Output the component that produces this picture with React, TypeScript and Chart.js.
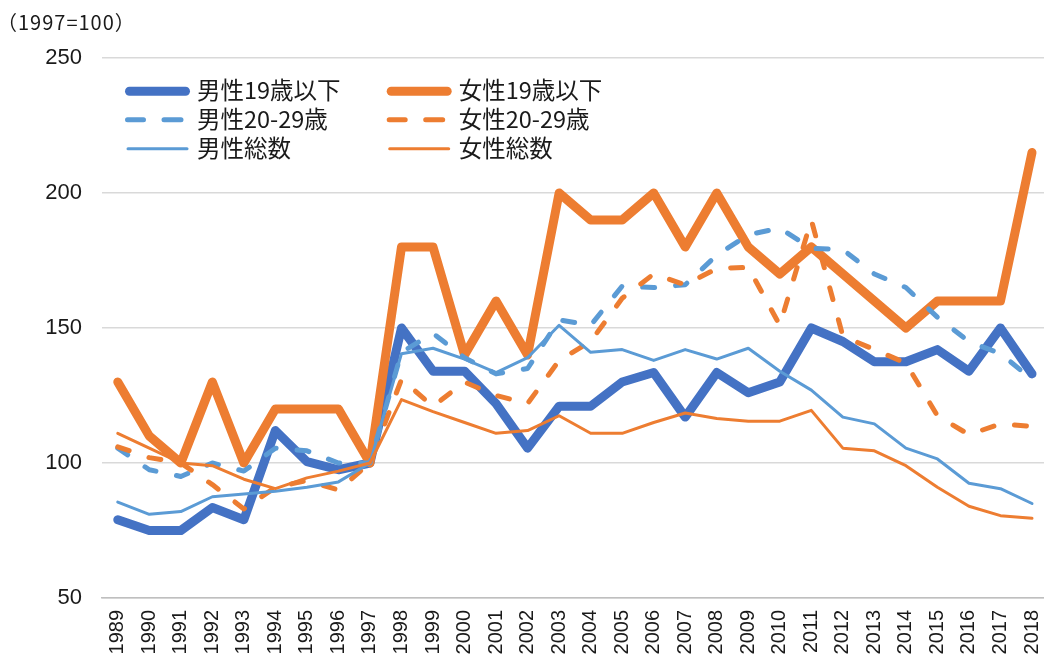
import React, { useEffect, useRef } from "react";
import { Chart, registerables } from "chart.js";

Chart.register(...registerables);

const years = [
  "1989", "1990", "1991", "1992", "1993", "1994", "1995", "1996", "1997", "1998",
  "1999", "2000", "2001", "2002", "2003", "2004", "2005", "2006", "2007", "2008",
  "2009", "2010", "2011", "2012", "2013", "2014", "2015", "2016", "2017", "2018",
];

const male19 = [79, 75, 75, 83.5, 79, 112, 100.5, 97.5, 100, 150, 134, 134, 122, 105.5, 121, 121, 130, 133.5, 117, 133.5, 126, 130, 150, 145, 137.5, 137.5, 142, 134, 150, 133];
const female19 = [130, 110, 100, 130, 100, 120, 120, 120, 100, 180, 180, 140, 160, 140, 200, 190, 190, 200, 180, 200, 180, 170, 180, 170, 160, 150, 160, 160, 160, 215];
const male20s = [105.5, 97.5, 95, 100, 97, 105.5, 104.5, 100, 100, 141, 148, 139, 133, 135, 153, 151, 165.5, 165, 166, 177, 184.5, 187, 179.5, 179, 170, 165, 154, 145, 140.5, 131];
const female20s = [106, 102, 100, 92, 83, 91, 93.5, 90, 100, 131, 121, 130, 125, 122, 138, 145, 161, 170, 166, 172, 172.5, 151, 190, 147, 142, 137, 117.5, 110.5, 114.5, 113.5];
const maleTotal = [85.5, 81, 82, 87.5, 88.5, 89.5, 91, 93, 100, 140.5, 142.5, 138.5, 133.5, 139, 151, 141, 142, 138, 142, 138.5, 142.5, 134, 127, 117, 114.5, 105.5, 101.5, 92.5, 90.5, 85];
const femaleTotal = [111, 105.5, 100, 99, 94, 90.5, 94.5, 97, 100, 123.5, 119, 115, 111, 112, 117.5, 111, 111, 115, 118.5, 116.5, 115.5, 115.5, 119.5, 105.5, 104.5, 99, 91, 84, 80.5, 79.5];

const yTicks = [50, 100, 150, 200, 250];
const titleText = "（1997=100）";

const BLUE = "#4472C4";
const LIGHT_BLUE = "#5B9BD5";
const ORANGE = "#ED7D31";
const CJK = '"Noto Sans CJK JP", "Noto Sans", sans-serif';

const legendPlugin = {
  id: "customLegend",
  afterDraw(chart: any) {
    const ctx = chart.ctx as CanvasRenderingContext2D;
    ctx.save();
    // title
    ctx.fillStyle = "#1a1a1a";
    ctx.font = `20px ${CJK}`;
    ctx.textBaseline = "middle";
    ctx.textAlign = "left";
    try { (ctx as any).letterSpacing = "1px"; } catch (e) {}
    ctx.fillText(titleText, -3, 22);
    try { (ctx as any).letterSpacing = "0px"; } catch (e) {}

    const cols = [125, 386.7];
    const rows = [91.3, 119.7, 148.7];
    const dsets = chart.data.datasets;
    dsets.forEach((ds: any, i: number) => {
      const col = i % 2;
      const row = Math.floor(i / 2);
      const x0 = cols[col];
      const y = rows[row];
      ctx.strokeStyle = ds.borderColor;
      ctx.lineWidth = ds.borderWidth;
      ctx.lineCap = "round";
      ctx.setLineDash([]);
      ctx.beginPath();
      if (ds.borderDash && ds.borderDash.length) {
        ctx.moveTo(x0 + 2.5, y);
        ctx.lineTo(x0 + 18.5, y);
        ctx.moveTo(x0 + 39, y);
        ctx.lineTo(x0 + 56, y);
      } else if (ds.borderWidth >= 8) {
        ctx.moveTo(x0 + 4.5, y);
        ctx.lineTo(x0 + 60.5, y);
      } else {
        ctx.moveTo(x0 + 3, y);
        ctx.lineTo(x0 + 62, y);
      }
      ctx.stroke();
      ctx.fillStyle = "#1a1a1a";
      ctx.font = `23.5px ${CJK}`;
      ctx.textBaseline = "middle";
      ctx.fillText(ds.label, x0 + 72, y - 1);
    });
    ctx.restore();
  },
};

export default function App() {
  const ref = useRef<HTMLCanvasElement | null>(null);
  useEffect(() => {
    document.body.style.margin = "0";
    document.body.style.overflow = "hidden";
    const common = {
      pointRadius: 0,
      pointHoverRadius: 0,
      tension: 0,
      fill: false,
      borderCapStyle: "round" as const,
      borderJoinStyle: "round" as const,
    };
    const chart = new Chart(ref.current as HTMLCanvasElement, {
      type: "line",
      data: {
        labels: years,
        datasets: [
          { ...common, label: "男性19歳以下", data: male19, borderColor: BLUE, backgroundColor: BLUE, borderWidth: 9, order: 6 },
          { ...common, label: "女性19歳以下", data: female19, borderColor: ORANGE, backgroundColor: ORANGE, borderWidth: 9, order: 5 },
          { ...common, label: "男性20-29歳", data: male20s, borderColor: LIGHT_BLUE, backgroundColor: LIGHT_BLUE, borderWidth: 5, borderDash: [12, 21], order: 4 },
          { ...common, label: "女性20-29歳", data: female20s, borderColor: ORANGE, backgroundColor: ORANGE, borderWidth: 5, borderDash: [12, 21], order: 3 },
          { ...common, label: "男性総数", data: maleTotal, borderColor: LIGHT_BLUE, backgroundColor: LIGHT_BLUE, borderWidth: 3, order: 2 },
          { ...common, label: "女性総数", data: femaleTotal, borderColor: ORANGE, backgroundColor: ORANGE, borderWidth: 3, order: 1 },
        ],
      },
      options: {
        responsive: false,
        animation: false,
        layout: { padding: { top: 58, right: 0, bottom: 0, left: 0 } },
        plugins: {
          legend: { display: false },
          title: { display: false },
          tooltip: { enabled: false },
        },
        scales: {
          x: {
            offset: true,
            grid: { display: false, drawTicks: false },
            border: { display: true, color: "#bfbfbf", width: 1.5 },
            ticks: {
              autoSkip: false,
              maxRotation: 90,
              minRotation: 90,
              padding: 12,
              color: "#1a1a1a",
              font: { family: '"Liberation Sans", Arial, sans-serif', size: 20 },
            },
            afterFit: (scale: any) => { scale.height = 66; },
          },
          y: {
            min: 50,
            max: 250,
            afterBuildTicks: (scale: any) => { scale.ticks = yTicks.map((v) => ({ value: v })); },
            grid: { color: "#d9d9d9", lineWidth: 1.5, drawTicks: false },
            border: { display: false },
            ticks: {
              padding: 20,
              color: "#1a1a1a",
              font: { family: '"Liberation Sans", Arial, sans-serif', size: 22 },
            },
            afterFit: (scale: any) => { scale.width = 102; },
          },
        },
      },
      plugins: [legendPlugin],
    });
    return () => chart.destroy();
  }, []);
  return (
    <div style={{ position: "fixed", left: 0, top: 0, width: 1068, height: 664 }}>
      <canvas ref={ref} width={1068} height={664} />
    </div>
  );
}
